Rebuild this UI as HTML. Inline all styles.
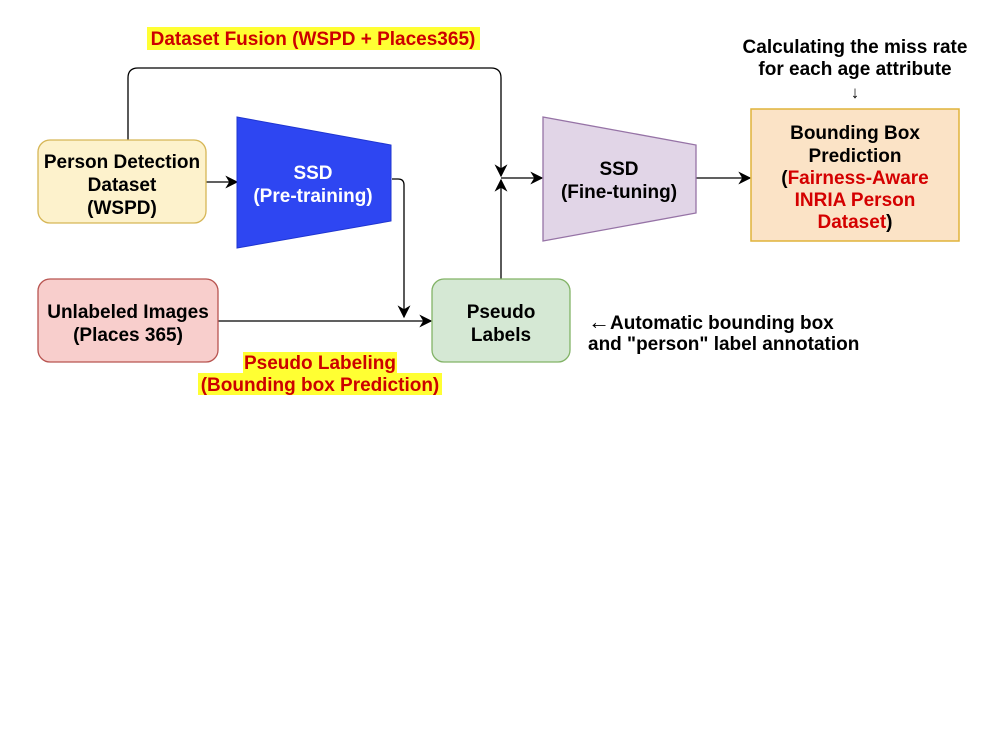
<!DOCTYPE html>
<html><head><meta charset="utf-8"><style>
body{margin:0;background:#fff;}
svg text{font-family:"Liberation Sans",Arial,sans-serif;font-weight:bold;font-size:19px;}
</style></head><body>
<svg width="1000" height="750" viewBox="0 0 1000 750" xmlns="http://www.w3.org/2000/svg">
<defs><marker id="a" viewBox="0 0 10 10" refX="9" refY="5" markerWidth="13" markerHeight="13" orient="auto" markerUnits="userSpaceOnUse"><path d="M0,0 L10,5 L0,10 L3,5 z" fill="#000"/></marker></defs>
<rect width="1000" height="750" fill="#fff"/>
<rect x="147" y="27" width="333" height="23" fill="#ffff33"/>
<text x="313" y="45" text-anchor="middle" fill="#cc0000">Dataset Fusion (WSPD + Places365)</text>
<rect x="243" y="352" width="154" height="21" fill="#ffff33"/>
<rect x="198" y="373" width="244" height="22" fill="#ffff33"/>
<text x="320" y="369" text-anchor="middle" fill="#cc0000">Pseudo Labeling</text>
<text x="320" y="391" text-anchor="middle" fill="#cc0000">(Bounding box Prediction)</text>
<path d="M128,140 V78 Q128,68 138,68 H491 Q501,68 501,78 V176" fill="none" stroke="#000" stroke-width="1.3" marker-end="url(#a)"/>
<path d="M501,279 V180" fill="none" stroke="#000" stroke-width="1.3" marker-end="url(#a)"/>
<path d="M501,178 H542" fill="none" stroke="#000" stroke-width="1.3" marker-end="url(#a)"/>
<path d="M206,182 H237" fill="none" stroke="#000" stroke-width="1.3" marker-end="url(#a)"/>
<path d="M392,179 H398 Q404,179 404,185 V317" fill="none" stroke="#000" stroke-width="1.3" marker-end="url(#a)"/>
<path d="M218,321 H431" fill="none" stroke="#000" stroke-width="1.3" marker-end="url(#a)"/>
<path d="M696,178 H750" fill="none" stroke="#000" stroke-width="1.3" marker-end="url(#a)"/>
<rect x="38" y="140" width="168" height="83" rx="12" fill="#fdf2cc" stroke="#d6b656" stroke-width="1.3"/>
<text x="122" y="168" text-anchor="middle">Person Detection</text>
<text x="122" y="191" text-anchor="middle">Dataset</text>
<text x="122" y="214" text-anchor="middle">(WSPD)</text>
<polygon points="237,117 391,145 391,221 237,248" fill="#2e46f2" stroke="#1f35d0" stroke-width="1"/>
<text x="313" y="179" text-anchor="middle" fill="#fff">SSD</text>
<text x="313" y="202" text-anchor="middle" fill="#fff">(Pre-training)</text>
<rect x="38" y="279" width="180" height="83" rx="12" fill="#f8cecc" stroke="#b85450" stroke-width="1.3"/>
<text x="128" y="318" text-anchor="middle">Unlabeled Images</text>
<text x="128" y="341" text-anchor="middle">(Places 365)</text>
<rect x="432" y="279" width="138" height="83" rx="12" fill="#d5e8d4" stroke="#82b366" stroke-width="1.3"/>
<text x="501" y="318" text-anchor="middle">Pseudo</text>
<text x="501" y="341" text-anchor="middle">Labels</text>
<polygon points="543,117 696,145 696,213 543,241" fill="#e1d5e7" stroke="#9673a6" stroke-width="1.3"/>
<text x="619" y="175" text-anchor="middle">SSD</text>
<text x="619" y="198" text-anchor="middle">(Fine-tuning)</text>
<rect x="751" y="109" width="208" height="132" fill="#fbe3c6" stroke="#e0b33a" stroke-width="1.5"/>
<text x="855" y="139" text-anchor="middle">Bounding Box</text>
<text x="855" y="162" text-anchor="middle">Prediction</text>
<text x="855" y="184" text-anchor="middle">(<tspan fill="#d40000">Fairness-Aware</tspan></text>
<text x="855" y="206" text-anchor="middle" fill="#d40000">INRIA Person</text>
<text x="855" y="228" text-anchor="middle"><tspan fill="#d40000">Dataset</tspan>)</text>
<text x="855" y="53" text-anchor="middle">Calculating the miss rate</text>
<text x="855" y="75" text-anchor="middle">for each age attribute</text>
<text x="855" y="98" text-anchor="middle" style="font-size:17px">↓</text>
<text x="588" y="329"><tspan style="font-size:22px">←</tspan>Automatic bounding box</text>
<text x="588" y="350">and "person" label annotation</text>
</svg>
</body></html>
